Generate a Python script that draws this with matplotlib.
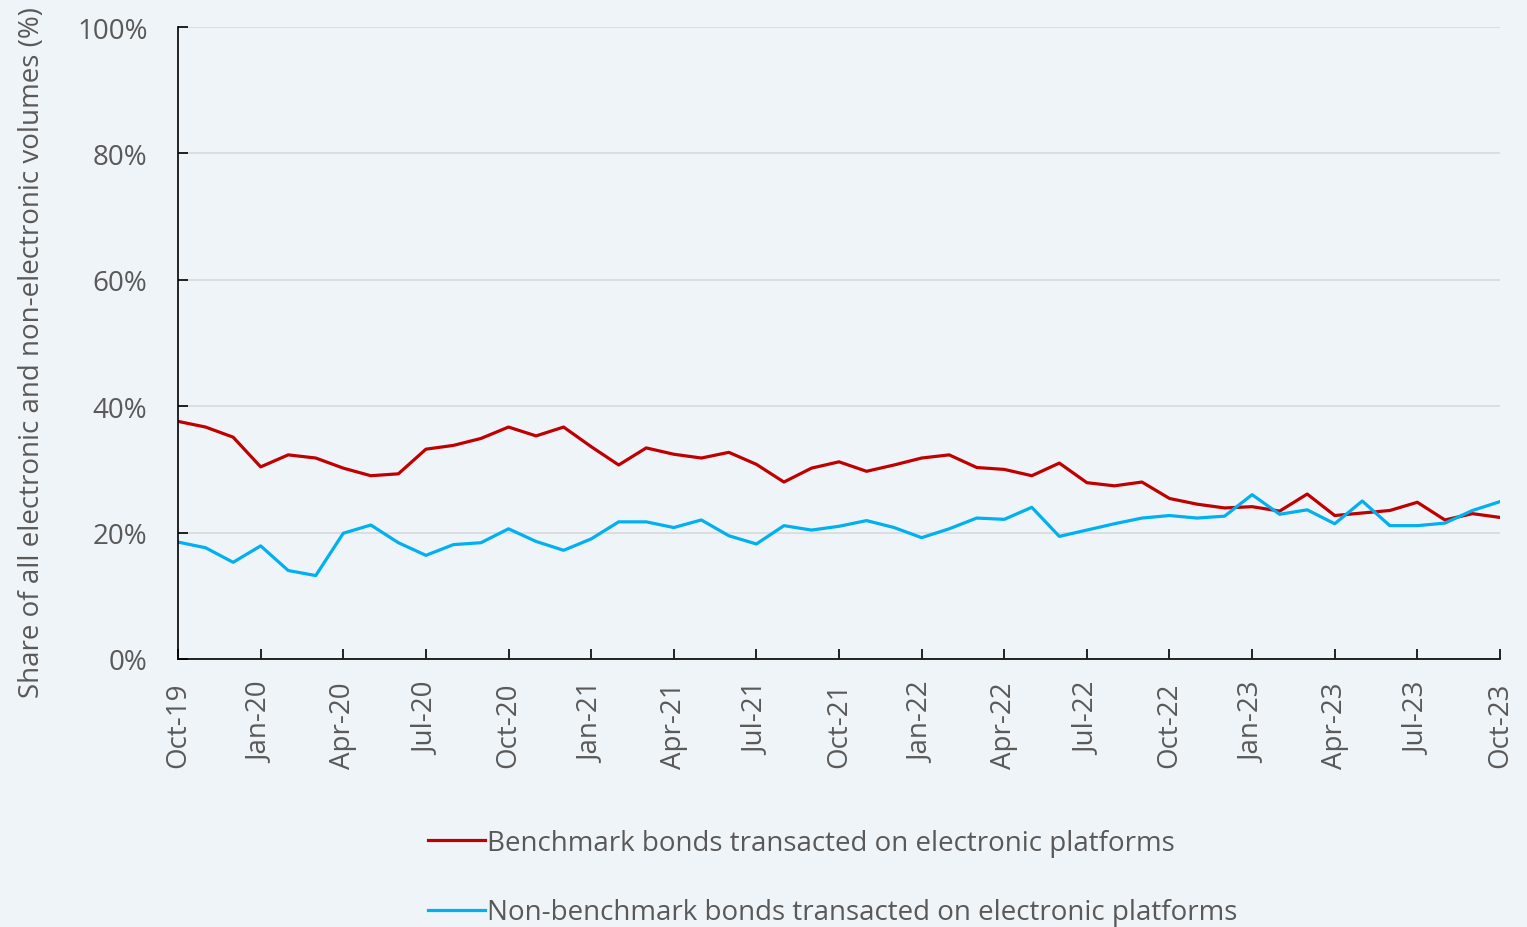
import numpy as np
import matplotlib.pyplot as plt

months = ["Oct-19", "Nov-19", "Dec-19", "Jan-20", "Feb-20", "Mar-20", "Apr-20", "May-20", "Jun-20",
          "Jul-20", "Aug-20", "Sep-20", "Oct-20", "Nov-20", "Dec-20", "Jan-21", "Feb-21", "Mar-21",
          "Apr-21", "May-21", "Jun-21", "Jul-21", "Aug-21", "Sep-21", "Oct-21", "Nov-21", "Dec-21",
          "Jan-22", "Feb-22", "Mar-22", "Apr-22", "May-22", "Jun-22", "Jul-22", "Aug-22", "Sep-22",
          "Oct-22", "Nov-22", "Dec-22", "Jan-23", "Feb-23", "Mar-23", "Apr-23", "May-23", "Jun-23",
          "Jul-23", "Aug-23", "Sep-23", "Oct-23"]

benchmark = [37.6, 36.7, 35.1, 30.4, 32.3, 31.8, 30.2, 29.0, 29.3, 33.2, 33.8, 34.9, 36.7, 35.3, 36.7,
             33.6, 30.7, 33.4, 32.4, 31.8, 32.7, 30.8, 28.0, 30.2, 31.2, 29.7, 30.7, 31.8, 32.3, 30.3,
             30.0, 29.0, 31.0, 27.9, 27.4, 28.0, 25.4, 24.5, 23.9, 24.1, 23.4, 26.1, 22.7, 23.1, 23.5,
             24.8, 22.0, 23.0, 22.4]

non_benchmark = [18.5, 17.6, 15.3, 17.9, 14.0, 13.2, 19.9, 21.2, 18.4, 16.4, 18.1, 18.4, 20.6, 18.6, 17.2,
                 19.0, 21.7, 21.7, 20.8, 22.0, 19.5, 18.2, 21.1, 20.4, 21.0, 21.9, 20.8, 19.2, 20.6, 22.3,
                 22.1, 24.0, 19.4, 20.4, 21.4, 22.3, 22.7, 22.3, 22.6, 26.0, 22.9, 23.6, 21.4, 25.0, 21.1,
                 21.1, 21.5, 23.5, 24.9]

bg = "#EFF4F8"
plt.rcParams['font.family'] = ['Open Sans', 'DejaVu Sans']

fig = plt.figure(figsize=(15.27, 9.28), dpi=100, facecolor=bg)
ax = fig.add_axes([0.1166, 0.2888, 0.8657, 0.681])
ax.set_facecolor(bg)

x = np.arange(len(months))
ax.plot(x, benchmark, color="#C00000", lw=2.3, label="Benchmark bonds transacted on electronic platforms")
ax.plot(x, non_benchmark, color="#00B0F0", lw=2.3, label="Non-benchmark bonds transacted on electronic platforms")

ax.set_xlim(0, len(months) - 1)
ax.set_ylim(0, 100)
ax.set_yticks(range(0, 101, 20))
ax.set_yticklabels([f"{v}%" for v in range(0, 101, 20)])
ax.set_xticks(x[::3])
ax.set_xticklabels(months[::3], rotation=90)

ax.grid(axis="y", color="#D9D9D9", lw=1.2)
ax.set_axisbelow(True)
for s in ["top", "right"]:
    ax.spines[s].set_visible(False)
for s in ["left", "bottom"]:
    ax.spines[s].set_color("black")
    ax.spines[s].set_linewidth(1.2)
ax.tick_params(axis="both", direction="in", length=7.5, colors="black", labelcolor="#595959",
               labelsize=20, width=1.2)
ax.tick_params(axis="y", pad=22)
ax.tick_params(axis="x", pad=16)

ax.set_ylabel("Share of all electronic and non-electronic volumes (%)", fontsize=20, color="#595959")
ax.yaxis.set_label_coords(-0.1, 0.487)

fig.legend(loc="upper left", bbox_to_anchor=(0.273, 0.118), frameon=False, fontsize=20,
           labelcolor="#595959", handlelength=2.05, handletextpad=0.08, labelspacing=1.5,
           borderaxespad=0)

fig.savefig("out.png", dpi=100, facecolor=bg)
